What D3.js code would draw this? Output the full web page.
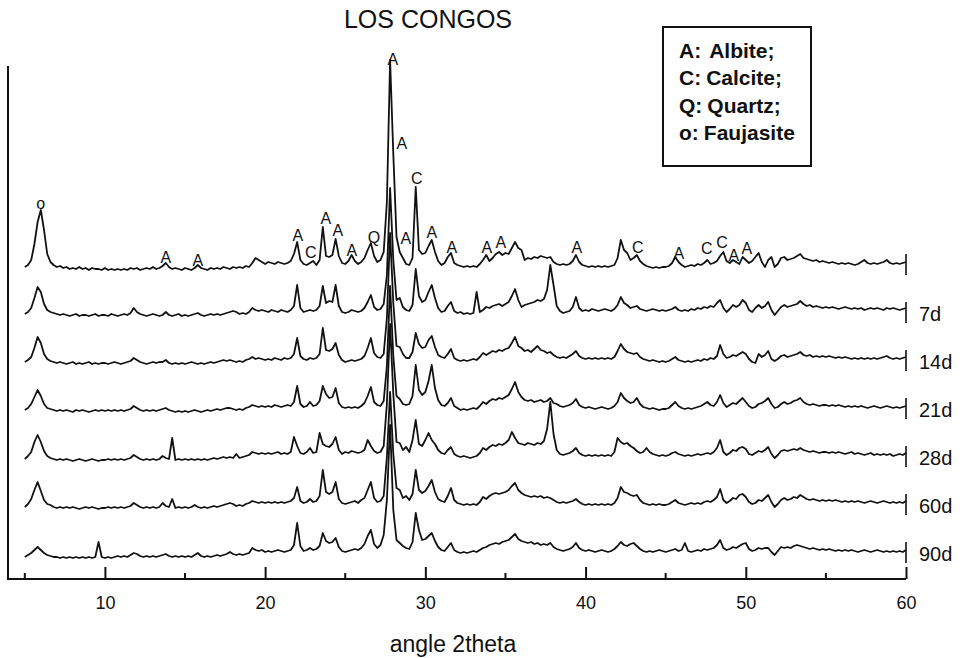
<!DOCTYPE html>
<html>
<head>
<meta charset="utf-8">
<script src="https://cdn.jsdelivr.net/npm/d3@7"></script>
<style>
  body { margin: 0; background: #fff; }
  svg { display: block; }
  text { font-family: "Liberation Sans", Arial, Helvetica, sans-serif; fill: #111; }
</style>
</head>
<body>
<svg id="chart" width="962" height="658"></svg>
<script>
// Diffractograms sampled every 0.2° 2theta from 5° to 60° (intensity in arbitrary units above each pattern's own zero)
const angleStart = 5;
const angleStep = 0.2;

const pattern0 = [
  5,7,12,28,50,62,42,18,10,7,5,6,4,5,3,4,3,5,3,4,2,4,3,3,2,
  4,2,3,2,3,2,3,2,4,3,4,2,3,4,3,5,3,4,6,9,5,3,4,3,2,
  4,3,2,4,7,4,3,2,4,3,4,3,5,4,3,5,4,5,4,6,5,9,14,12,10,
  8,10,9,8,10,9,8,9,11,18,30,12,8,7,9,11,7,12,45,16,15,17,33,16,9,
  8,11,17,11,8,10,14,22,29,16,10,12,20,70,212,118,35,20,14,8,7,14,85,22,18,
  19,26,32,20,11,7,9,15,19,9,7,6,5,6,5,6,5,8,12,17,11,14,18,20,17,
  19,18,24,30,24,22,12,14,13,15,14,16,15,14,15,10,8,7,8,7,8,11,17,10,7,
  6,5,6,5,6,5,6,5,6,7,14,32,22,19,12,14,17,11,8,6,5,4,5,4,5,
  5,6,9,15,10,7,5,6,7,6,8,7,9,12,8,9,11,16,20,11,9,12,10,8,15,
  12,9,11,15,19,10,5,12,15,5,8,14,15,12,13,14,16,18,14,13,12,11,12,10,11,
  10,9,10,9,8,9,8,9,8,7,8,10,12,9,8,9,8,9,10,12,9,8,9,8,9,
  10
];
const pattern7d = [
  6,8,12,22,33,28,16,10,8,7,6,5,6,5,4,5,6,4,5,5,4,5,6,4,5,
  5,4,6,5,4,5,6,5,7,12,8,6,5,4,5,6,5,4,5,8,5,4,5,6,4,
  5,4,5,6,7,5,4,5,6,5,6,5,6,7,8,9,8,6,7,6,8,12,10,9,10,
  9,8,10,9,8,10,9,8,10,14,35,12,8,9,10,9,10,14,34,17,19,18,35,14,8,
  7,8,10,9,8,9,12,18,25,13,10,11,16,45,132,60,20,22,13,10,9,15,51,24,18,
  20,28,35,22,12,8,9,14,18,9,7,8,6,7,6,7,28,8,10,13,12,14,15,16,14,
  16,18,24,31,20,13,15,16,17,18,20,19,21,30,55,35,14,9,7,8,9,13,23,12,9,
  10,9,11,10,9,10,11,10,9,11,15,23,17,15,12,13,14,11,10,9,10,11,10,9,10,
  9,10,11,13,10,9,10,9,11,10,12,11,13,12,14,13,17,20,12,8,11,15,13,15,20,
  17,10,8,12,15,12,14,18,10,5,9,13,15,13,14,15,16,19,16,14,15,13,14,13,12,
  13,12,13,12,11,12,13,12,11,12,11,12,10,11,12,11,12,11,10,12,11,12,11,10,11,
  12
];
const pattern14d = [
  6,8,11,20,31,25,14,9,7,6,5,6,5,4,5,6,4,5,4,5,6,4,5,4,5,
  5,4,5,6,5,4,5,6,7,10,8,6,5,4,5,6,5,6,6,8,5,4,5,4,5,
  4,5,6,5,4,5,4,5,6,5,6,7,8,7,8,7,6,7,6,8,9,11,9,10,9,
  8,9,8,10,9,8,10,9,10,14,30,12,9,8,10,9,10,14,40,18,17,19,25,13,8,
  6,7,8,7,8,9,12,20,30,15,11,10,14,50,135,65,22,21,14,10,10,16,35,24,20,
  21,28,32,21,13,11,10,14,19,10,8,7,8,7,8,9,8,11,15,13,15,17,16,18,17,
  19,20,25,31,22,20,17,18,16,19,22,18,17,15,16,13,11,10,11,10,12,14,17,12,10,
  9,10,9,10,9,10,9,10,9,11,17,24,19,16,15,14,15,11,9,8,7,8,7,6,7,
  6,7,9,11,8,7,6,7,6,7,8,7,9,8,10,9,12,23,14,10,11,13,12,14,16,
  14,9,6,5,14,11,13,17,9,7,9,12,13,11,12,13,14,16,13,12,13,11,12,11,12,
  11,12,11,10,11,10,11,10,9,10,9,10,9,10,9,10,9,10,11,12,10,9,10,9,10,
  11
];
const pattern21d = [
  6,8,12,19,26,20,12,8,7,6,5,6,5,6,5,4,6,5,6,5,4,5,6,5,6,
  5,6,5,6,5,6,5,6,7,10,8,6,5,6,5,6,5,6,7,8,6,5,4,5,4,
  5,4,5,6,5,4,5,6,5,6,7,6,7,8,8,7,6,7,6,8,9,11,10,9,10,
  9,10,9,11,10,9,10,11,10,14,30,12,9,10,14,10,11,15,30,22,18,19,28,13,9,
  8,9,8,9,8,10,13,20,29,14,11,10,15,50,130,60,20,17,12,11,12,20,51,26,21,
  24,35,51,28,16,11,10,13,18,10,8,6,7,6,7,8,7,10,14,12,15,17,16,18,17,
  19,21,27,34,24,19,16,15,16,14,15,16,14,15,18,13,12,10,9,10,11,13,17,11,9,
  8,9,8,7,8,9,8,7,8,10,14,23,18,15,13,14,18,12,9,8,7,8,7,6,7,
  7,8,11,14,10,8,7,8,7,8,9,10,12,14,11,10,14,21,13,9,11,13,12,15,18,
  14,10,8,9,12,13,15,18,12,8,9,12,14,12,13,15,16,18,14,12,11,12,11,10,11,
  11,10,11,10,11,10,9,10,9,10,9,10,9,8,9,10,9,8,9,10,9,8,9,8,9,
  10
];
const pattern28d = [
  5,8,12,22,29,22,13,8,6,5,4,5,4,5,4,3,4,5,4,3,4,5,4,3,4,
  4,5,4,5,4,5,4,5,6,9,7,5,4,5,4,5,4,5,8,6,5,26,4,5,4,
  5,4,5,4,5,4,5,4,5,6,5,6,7,6,7,6,10,6,7,8,9,12,11,10,11,
  10,11,10,11,12,10,11,10,12,27,18,11,10,12,16,11,12,31,20,18,17,20,27,14,10,
  12,11,13,12,11,12,14,24,18,13,11,12,18,60,140,70,22,21,14,17,12,24,44,20,18,
  24,31,24,20,14,11,10,14,17,10,8,7,8,7,6,7,8,11,16,14,17,19,18,20,19,
  21,24,32,26,21,20,19,21,20,19,21,20,23,35,62,30,14,10,9,10,11,13,16,11,9,
  8,9,8,9,8,9,8,9,8,12,26,22,20,21,18,16,13,11,12,16,12,10,9,8,9,
  8,9,11,12,10,9,8,9,8,9,10,9,10,11,10,12,16,24,12,9,11,14,13,16,17,
  15,10,9,11,13,12,14,17,10,6,9,13,14,13,14,15,14,16,14,13,12,13,12,11,12,
  12,11,12,11,12,11,10,11,12,10,11,10,9,10,11,9,10,9,10,9,10,8,9,10,9,
  11
];
const pattern60d = [
  5,8,13,22,30,21,12,8,7,5,4,5,4,5,4,5,4,3,4,5,4,5,4,3,4,
  4,5,4,5,4,5,4,5,6,9,7,5,4,5,4,5,4,5,9,6,5,13,4,5,4,
  5,4,5,7,5,4,5,4,5,6,5,6,7,8,9,8,6,7,6,8,9,11,10,9,10,
  9,10,9,10,9,10,9,10,11,14,25,11,9,10,13,10,11,16,42,20,18,20,30,13,9,
  8,9,10,11,9,12,14,22,30,14,10,11,16,55,120,58,24,22,14,16,12,18,42,22,19,
  21,26,32,20,13,11,10,16,24,12,9,8,7,8,7,8,7,10,15,13,16,18,19,18,19,
  20,22,26,29,22,19,17,16,15,16,15,16,14,15,14,12,10,9,10,9,10,11,13,10,8,
  7,8,7,8,7,8,7,8,7,9,14,25,20,19,17,16,17,12,9,8,7,8,7,8,7,
  7,8,10,12,9,8,7,8,9,8,9,8,10,11,10,12,15,23,12,9,11,14,13,17,18,
  15,10,8,9,12,11,14,17,10,5,8,12,14,12,13,15,14,17,15,13,12,13,12,11,12,
  11,12,11,12,11,10,11,10,11,10,11,10,9,10,11,10,9,10,11,10,9,10,9,10,9,
  11
];
const pattern90d = [
  3,5,7,10,13,10,7,5,4,3,3,2,3,2,3,2,3,2,3,2,3,2,3,18,3,
  2,3,2,3,4,3,4,3,5,7,6,4,3,4,3,4,3,4,5,6,4,3,4,3,4,
  3,4,3,5,7,4,3,4,3,4,5,4,5,6,8,6,5,6,5,6,7,12,10,9,10,
  8,9,8,9,10,9,8,9,10,15,37,14,9,10,12,10,11,14,27,19,17,18,22,13,9,
  8,9,10,11,10,12,16,24,30,16,12,15,25,60,135,50,20,17,14,12,11,18,47,30,20,
  21,24,27,19,13,10,9,13,17,10,8,7,8,7,8,9,8,10,12,13,15,16,17,16,18,
  19,20,23,26,21,19,18,17,18,16,17,15,16,15,17,13,11,10,9,10,11,13,17,12,10,
  9,10,9,8,9,10,9,8,9,11,14,18,15,14,16,17,14,11,9,8,9,8,9,10,9,
  8,9,10,11,9,10,17,9,8,9,10,9,11,10,11,12,15,20,12,10,11,13,12,14,16,
  17,11,9,10,12,11,12,12,8,5,9,13,12,13,12,14,15,14,13,12,11,12,11,10,11,
  10,11,10,9,10,9,10,9,10,9,8,9,10,9,8,9,10,9,8,9,8,9,8,9,8,
  10
];

const patterns = [pattern0, pattern7d, pattern14d, pattern21d, pattern28d, pattern60d, pattern90d];
const patternNames = ["", "7d", "14d", "21d", "28d", "60d", "90d"];
// vertical stacking offset of each pattern, in intensity units
const patternOffsets = [288, 240, 192, 144, 96, 48, 0];

// phase markers on the uppermost pattern: 2theta, letter, intensity level of the letter
const markerAngles = [6.0, 13.8, 15.8, 22.04, 22.85, 23.79, 24.54, 25.41, 26.79, 27.97, 28.53, 29.47, 28.78, 30.41, 31.65, 33.84, 34.71, 39.46, 43.26, 45.82, 47.57, 48.51, 49.26, 50.07];
const markerLetters = ["o", "A", "A", "A", "C", "A", "A", "A", "Q", "A", "A", "C", "A", "A", "A", "A", "A", "A", "C", "A", "C", "C", "A", "A"];
const markerLevels = [69, 15, 12, 37, 20, 54, 42, 22, 35, 213, 129, 94, 34, 40, 25, 25, 30, 25, 25, 19, 24, 30, 17, 24];

const legendKeys = ["A:", "C:", "Q:", "o:"];
const legendNames = ["Albite;", "Calcite;", "Quartz;", "Faujasite"];

const majorTicks = [10, 20, 30, 40, 50, 60];
const minorTicks = [5, 15, 25, 35, 45, 55];

const svg = d3.select("#chart");

const x = d3.scaleLinear().domain([5, 60]).range([24.8, 906]);
const y = d3.scaleLinear().domain([-19, 494]).range([579, 66]);

const angles = d3.range(pattern0.length).map(i => +(angleStart + i * angleStep).toFixed(1));

// title
svg.append("text")
  .attr("x", 428).attr("y", 28)
  .attr("text-anchor", "middle")
  .style("font-size", "25px")
  .text("LOS CONGOS");

// axes frame: left spine and bottom axis with inward ticks
svg.append("line")
  .attr("x1", 8).attr("x2", 8)
  .attr("y1", y(494)).attr("y2", y(-19))
  .attr("stroke", "#111").attr("stroke-width", 2);

const xAxis = d3.axisBottom(x)
  .tickValues(majorTicks)
  .tickSizeInner(-12)
  .tickSizeOuter(0)
  .tickPadding(17)
  .tickFormat(d3.format("d"));

const gx = svg.append("g")
  .attr("transform", `translate(0,${y(-19)})`)
  .call(xAxis);
gx.select(".domain").attr("d", `M7,0H${x(60)}`).attr("stroke", "#111").attr("stroke-width", 2);
gx.selectAll(".tick line").attr("stroke", "#111").attr("stroke-width", 2);
gx.selectAll(".tick text")
  .style("font-size", "18px")
  .style("font-family", '"Liberation Sans", Arial, sans-serif')
  .attr("fill", "#111");

gx.selectAll(".minor")
  .data(minorTicks)
  .enter().append("line")
  .attr("class", "minor")
  .attr("x1", d => x(d)).attr("x2", d => x(d))
  .attr("y1", 0).attr("y2", -6)
  .attr("stroke", "#111").attr("stroke-width", 2);

svg.append("text")
  .attr("x", 453).attr("y", 652)
  .attr("text-anchor", "middle")
  .style("font-size", "23px")
  .text("angle 2theta");

// stacked patterns
const line = d3.line()
  .x((v, i) => x(angles[i]))
  .y(v => v);

const g = svg.append("g");
patterns.forEach((p, k) => {
  const off = patternOffsets[k];
  g.append("path")
    .attr("d", line(p.map(v => y(off + v))))
    .attr("fill", "none")
    .attr("stroke", "#111")
    .attr("stroke-width", 1.8)
    .attr("stroke-linejoin", "round");
  // end marker at 60°
  g.append("line")
    .attr("x1", x(60)).attr("x2", x(60))
    .attr("y1", y(off + 18)).attr("y2", y(off - 3))
    .attr("stroke", "#111").attr("stroke-width", 1.6);
  if (patternNames[k]) {
    g.append("text")
      .attr("x", 919)
      .attr("y", y(off + 6))
      .attr("dy", "0.36em")
      .style("font-size", "20px")
      .text(patternNames[k]);
  }
});

// phase letters
svg.append("g").selectAll("text")
  .data(markerAngles)
  .enter().append("text")
  .attr("x", d => x(d))
  .attr("y", (d, i) => y(patternOffsets[0] + markerLevels[i]))
  .attr("dy", "0.36em")
  .attr("text-anchor", "middle")
  .style("font-size", "16px")
  .text((d, i) => markerLetters[i]);

// legend box
const lg = svg.append("g");
lg.append("rect")
  .attr("x", 663).attr("y", 27).attr("width", 148).attr("height", 139)
  .attr("fill", "#fff").attr("stroke", "#111").attr("stroke-width", 2);
const legendGaps = [8, 5, 5, 5];
legendKeys.forEach((key, i) => {
  const t = lg.append("text")
    .attr("x", 679).attr("y", 58 + i * 27.4)
    .style("font-size", "21px").style("font-weight", "bold");
  t.append("tspan").text(key);
  t.append("tspan").attr("dx", legendGaps[i]).text(legendNames[i]);
});
</script>
</body>
</html>
